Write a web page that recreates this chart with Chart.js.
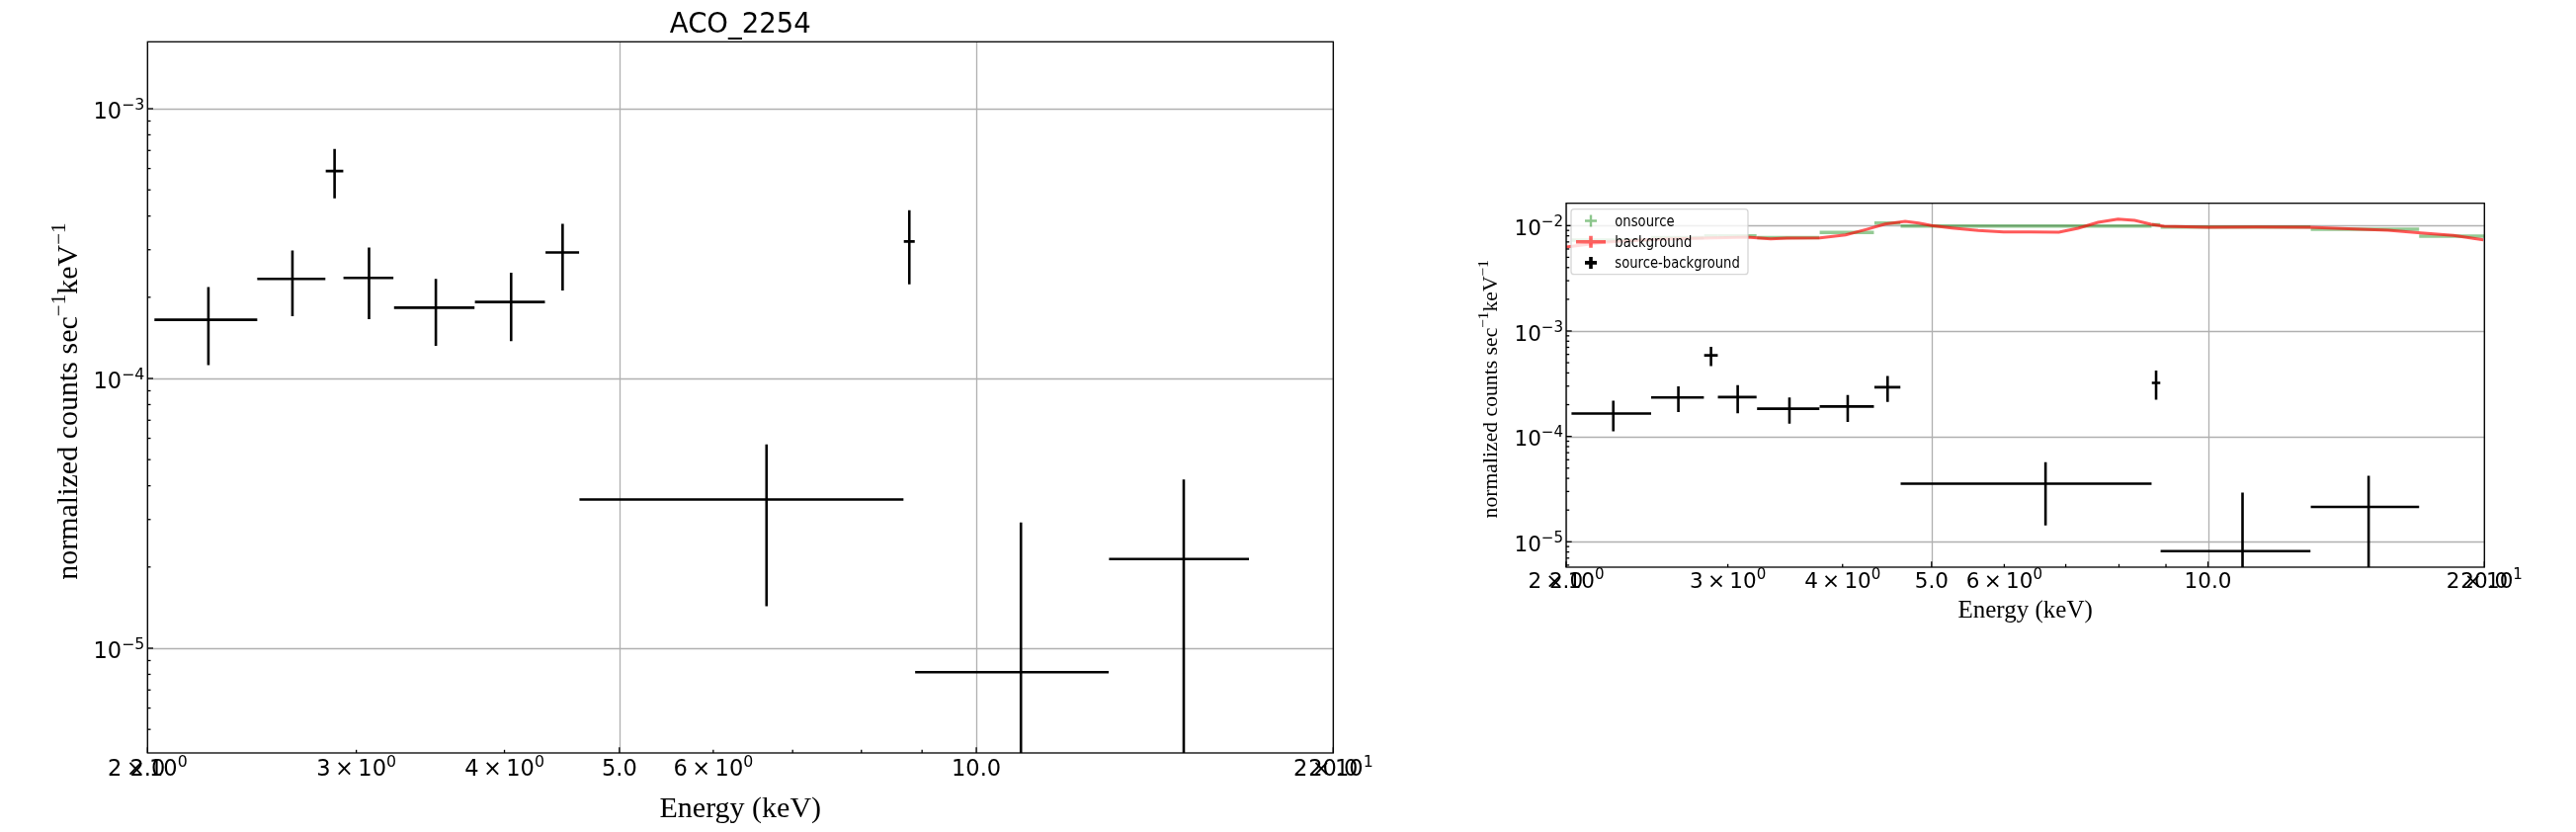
<!DOCTYPE html>
<html>
<head>
<meta charset="utf-8">
<script src="https://cdn.jsdelivr.net/npm/chart.js@4.4.0/dist/chart.umd.min.js"></script>
<style>
html, body { margin: 0; padding: 0; background: #fff; }
#wrap { position: relative; width: 2607px; height: 842px; }
canvas { position: absolute; top: 0; }
</style>
</head>
<body>
<div id="wrap">
  <canvas id="left" width="1400" height="842" style="left:0px"></canvas>
  <canvas id="right" width="1207" height="842" style="left:1400px"></canvas>
</div>
<script>
// source - background spectrum (keV, counts/s/keV)
const energy      = [2.251, 2.650, 2.876, 3.075, 3.501, 4.052, 4.478, 6.654, 8.780, 10.905, 14.96];
const energyErr   = [0.224, 0.175, 0.049, 0.149, 0.273, 0.275, 0.146, 2.027, 0.093, 2.025, 2.02];
const netRate     = [1.65e-4, 2.34e-4, 5.87e-4, 2.36e-4, 1.83e-4, 1.92e-4, 2.93e-4, 3.56e-5, 3.22e-4, 8.15e-6, 2.14e-5];
const netRateErr  = [0.53e-4, 0.64e-4, 1.22e-4, 0.70e-4, 0.51e-4, 0.545e-4, 0.81e-4, 2.13e-5, 0.985e-4, 2.11e-5, 2.08e-5];

// onsource spectrum (same binning + one last bin)
const onEnergy    = [2.251, 2.650, 2.876, 3.075, 3.501, 4.052, 4.478, 6.654, 8.780, 10.905, 14.96, 19.24];
const onEnergyErr = [0.224, 0.175, 0.049, 0.149, 0.273, 0.275, 0.146, 2.027, 0.093, 2.025, 2.02, 2.26];
const onRate      = [7.3e-3, 7.7e-3, 8.0e-3, 8.0e-3, 7.7e-3, 8.6e-3, 1.057e-2, 9.91e-3, 1.02e-2, 9.7e-3, 9.23e-3, 7.94e-3];

// background spectrum (densely sampled)
const bgEnergy = [2.00, 2.21, 2.50, 2.83, 3.15, 3.34, 3.48, 3.78, 4.03, 4.24, 4.45, 4.68, 4.84, 5.00, 5.26, 5.62, 5.99,
                  6.41, 6.88, 7.22, 7.59, 7.98, 8.32, 8.67, 8.96, 9.99, 11.28, 12.88, 14.45, 15.70, 17.06, 18.51, 19.95];
const bgRate   = [6.26e-3, 6.97e-3, 7.39e-3, 7.60e-3, 7.77e-3, 7.49e-3, 7.60e-3, 7.65e-3, 8.16e-3, 9.17e-3, 1.035e-2, 1.097e-2, 1.057e-2, 1.0e-2, 9.5e-3, 8.97e-3, 8.70e-3,
                  8.70e-3, 8.65e-3, 9.44e-3, 1.074e-2, 1.154e-2, 1.121e-2, 1.03e-2, 9.85e-3, 9.64e-3, 9.70e-3, 9.64e-3, 9.29e-3, 9.04e-3, 8.52e-3, 8.06e-3, 7.33e-3];

// axes
const xMajorTicks = [2, 5, 10, 20];
const xMinorTicks = [3, 4, 6, 7, 8, 9];
const xTickValues = [2, 2, 3, 4, 5, 6, 10, 20, 20];
const xTickLabels = ['2\u2009×\u200910^{0}', '2.0', '3\u2009×\u200910^{0}', '4\u2009×\u200910^{0}', '5.0', '6\u2009×\u200910^{0}', '10.0', '2\u2009×\u200910^{1}', '20.0'];
const leftYDecades  = [-5, -4, -3];
const rightYDecades = [-5, -4, -3, -2];
const yLabel = 'normalized counts sec^{−1}keV^{−1}';
const xLabel = 'Energy (keV)';
const title = 'ACO_2254';
const legendLabels = ['onsource', 'background', 'source-background'];

const SANS = '"DejaVu Sans"';
const SERIF = '"Liberation Serif", "Times New Roman", serif';

function drawRich(ctx, str, x, y, size, family, align) {
  const parts = [];
  const re = /\^\{([^}]*)\}/g;
  let last = 0, m;
  while ((m = re.exec(str))) {
    if (m.index > last) parts.push({ t: str.slice(last, m.index), sup: false });
    parts.push({ t: m[1], sup: true });
    last = re.lastIndex;
  }
  if (last < str.length) parts.push({ t: str.slice(last), sup: false });
  let w = 0;
  parts.forEach(p => {
    ctx.font = (p.sup ? size * 0.7 : size) + 'px ' + family;
    p.w = ctx.measureText(p.t).width;
    w += p.w;
  });
  let cx = align === 'center' ? x - w / 2 : align === 'right' ? x - w : x;
  ctx.textAlign = 'left';
  ctx.textBaseline = 'alphabetic';
  parts.forEach(p => {
    ctx.font = (p.sup ? size * 0.7 : size) + 'px ' + family;
    ctx.fillText(p.t, cx, p.sup ? y - size * 0.42 : y);
    cx += p.w;
  });
}

function errorPoints(xs, xe, ys, ye, floor) {
  const pts = [];
  xs.forEach((x, i) => {
    pts.push({ x: x - xe[i], y: ys[i] }, { x: x + xe[i], y: ys[i] }, { x: x, y: null });
    if (ye) {
      pts.push({ x: x, y: Math.max(ys[i] - ye[i], floor) }, { x: x, y: ys[i] + ye[i] }, { x: x, y: null });
    }
  });
  return pts;
}

function mplAxes(cfg) {
  return {
    id: 'mplAxes',
    beforeDatasetsDraw(chart) {
      const { ctx, chartArea: a, scales: { x, y } } = chart;
      ctx.save();
      ctx.strokeStyle = '#b0b0b0';
      ctx.lineWidth = 1.3;
      xMajorTicks.forEach(v => {
        const px = Math.round(x.getPixelForValue(v)) + 0.5;
        ctx.beginPath(); ctx.moveTo(px, a.top); ctx.lineTo(px, a.bottom); ctx.stroke();
      });
      cfg.decades.forEach(d => {
        const py = Math.round(y.getPixelForValue(Math.pow(10, d))) + 0.5;
        ctx.beginPath(); ctx.moveTo(a.left, py); ctx.lineTo(a.right, py); ctx.stroke();
      });
      ctx.restore();
    },
    afterDatasetsDraw(chart) {
      const { ctx, chartArea: a, scales: { x, y } } = chart;
      ctx.save();
      ctx.strokeStyle = '#000';
      ctx.lineWidth = 1.3;
      // inward ticks
      const tick = (px, len, vertical) => {
        ctx.beginPath();
        if (vertical) { ctx.moveTo(px, a.bottom); ctx.lineTo(px, a.bottom - len); }
        else { ctx.moveTo(a.left, px); ctx.lineTo(a.left + len, px); }
        ctx.stroke();
      };
      xMajorTicks.forEach(v => tick(x.getPixelForValue(v), 5.7, true));
      xMinorTicks.forEach(v => tick(x.getPixelForValue(v), 3.2, true));
      const dmin = Math.floor(Math.log10(y.min)), dmax = Math.ceil(Math.log10(y.max));
      for (let d = dmin; d <= dmax; d++) {
        for (let k = 1; k <= 9; k++) {
          const v = k * Math.pow(10, d);
          if (v < y.min || v > y.max) continue;
          tick(y.getPixelForValue(v), k === 1 ? 5.7 : 3.2, false);
        }
      }
      // frame
      ctx.strokeRect(a.left, a.top, a.right - a.left, a.bottom - a.top);
      ctx.fillStyle = '#000';
      // tick labels
      xTickValues.forEach((v, i) => {
        drawRich(ctx, xTickLabels[i], x.getPixelForValue(v), a.bottom + cfg.xTickOffset, cfg.tickSize, SANS, 'center');
      });
      cfg.decades.forEach(d => {
        drawRich(ctx, '10^{−' + (-d) + '}', a.left - 3, y.getPixelForValue(Math.pow(10, d)) + cfg.tickSize * 0.45, cfg.tickSize, SANS, 'right');
      });
      const cxm = (a.left + a.right) / 2, cym = (a.top + a.bottom) / 2;
      drawRich(ctx, xLabel, cxm, a.bottom + cfg.xLabelOffset, cfg.labelSize, SERIF, 'center');
      ctx.save();
      ctx.translate(a.left - cfg.yLabelOffset, cym + 4);
      ctx.rotate(-Math.PI / 2);
      drawRich(ctx, yLabel, 0, 0, cfg.yLabelSize, SERIF, 'center');
      ctx.restore();
      if (cfg.title) {
        drawRich(ctx, cfg.title, cxm, a.top - 9, 27.5, SANS, 'center');
      }
      if (cfg.legend) {
        const lx = a.left + 5, ly = a.top + 6, lw = 179, lh = 66;
        ctx.fillStyle = 'rgba(255,255,255,0.8)';
        ctx.strokeStyle = 'rgba(204,204,204,0.8)';
        ctx.lineWidth = 1.3;
        ctx.beginPath();
        ctx.roundRect(lx, ly, lw, lh, 3);
        ctx.fill(); ctx.stroke();
        const colors = ['rgba(0,128,0,0.45)', 'rgba(255,0,0,0.6)', '#000'];
        const widths = [2.4, 3.6, 3.6];
        legendLabels.forEach((lab, i) => {
          const yy = ly + 11.8 + i * 21.2, mx = lx + 20;
          ctx.strokeStyle = colors[i];
          ctx.lineWidth = widths[i];
          ctx.beginPath();
          if (i === 1) { ctx.moveTo(mx - 15, yy); ctx.lineTo(mx + 15, yy); }
          else { ctx.moveTo(mx - 6, yy); ctx.lineTo(mx + 6, yy); }
          ctx.moveTo(mx, yy - 6); ctx.lineTo(mx, yy + 6);
          ctx.stroke();
          ctx.fillStyle = '#000';
          ctx.save();
          ctx.translate(lx + 44.3, yy + 5);
          ctx.scale(1, 1.25);
          drawRich(ctx, lab, 0, 0, 13.2, SANS, 'left');
          ctx.restore();
        });
      }
      ctx.restore();
    }
  };
}

function makeChart(id, cfg) {
  const datasets = [];
  if (cfg.legend) {
    datasets.push({
      data: bgEnergy.map((e, i) => ({ x: e, y: bgRate[i] })),
      showLine: true, borderColor: 'rgba(255,0,0,0.65)', borderWidth: 3, pointRadius: 0
    });
    datasets.push({
      data: errorPoints(onEnergy, onEnergyErr, onRate, null, cfg.ymin / 10),
      showLine: true, borderColor: 'rgba(0,128,0,0.42)', borderWidth: 3.5, pointRadius: 0, borderCapStyle: 'butt'
    });
  }
  datasets.push({
    data: errorPoints(energy, energyErr, netRate, netRateErr, cfg.ymin / 10),
    showLine: true, borderColor: '#000', borderWidth: 2.6, pointRadius: 0, borderCapStyle: 'butt'
  });
  return new Chart(document.getElementById(id), {
    type: 'scatter',
    data: { datasets },
    options: {
      responsive: false,
      animation: false,
      layout: { padding: cfg.padding },
      plugins: { legend: { display: false }, tooltip: { enabled: false } },
      scales: {
        x: { type: 'logarithmic', min: 2, max: 20, display: false },
        y: { type: 'logarithmic', min: cfg.ymin, max: cfg.ymax, display: false }
      }
    },
    plugins: [mplAxes(cfg)]
  });
}

makeChart('left', {
  padding: { left: 149.3, top: 42.3, right: 50.7, bottom: 80 },
  ymin: 4.09e-6, ymax: 1.77e-3, decades: leftYDecades,
  tickSize: 22.5, xTickOffset: 23, labelSize: 30, xLabelOffset: 65, yLabelSize: 30, yLabelOffset: 71,
  title: title, legend: false
});

makeChart('right', {
  padding: { left: 185, top: 205.7, right: 92.7, bottom: 268 },
  ymin: 5.74e-6, ymax: 1.63e-2, decades: rightYDecades,
  tickSize: 21.5, xTickOffset: 21, labelSize: 25, xLabelOffset: 51, yLabelSize: 21.7, yLabelOffset: 70,
  title: null, legend: true
});
</script>
</body>
</html>
